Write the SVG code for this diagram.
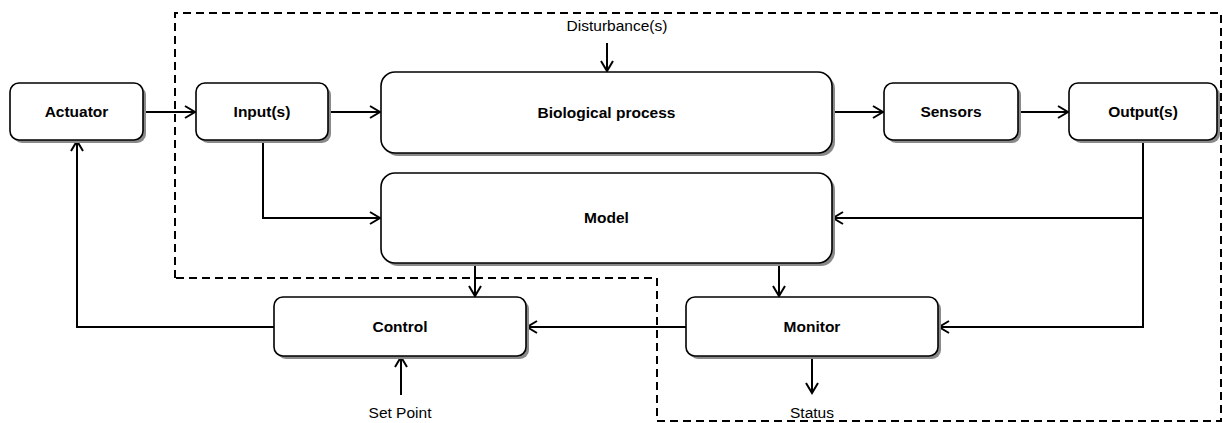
<svg xmlns="http://www.w3.org/2000/svg" width="1223" height="423" viewBox="0 0 1223 423">
<style>
.box{fill:#fff;stroke:#000;stroke-width:1.6}
.sh{fill:#8a8a8a;stroke:none}
.lbl{font-family:"Liberation Sans",Arial,sans-serif;font-weight:bold;font-size:15.5px;text-anchor:middle;fill:#000}
.txt{font-family:"Liberation Sans",Arial,sans-serif;font-size:15.5px;text-anchor:middle;fill:#000}
.c{fill:none;stroke:#000;stroke-width:2}
.dash{fill:none;stroke:#000;stroke-width:2;stroke-dasharray:8,5}
</style>
<defs>
<marker id="ah" markerWidth="14" markerHeight="14" refX="11" refY="7" orient="auto" markerUnits="userSpaceOnUse">
<polyline points="1,1 11,7 1,13" fill="none" stroke="#000" stroke-width="2"/>
</marker>
</defs>
<rect width="1223" height="423" fill="#fff"/>
<polyline class="dash" points="175,278 175,13 1221,13 1221,421 657,421 657,278 175,278"/>
<g id="connectors">
<line class="c" x1="143" y1="112" x2="195" y2="112" marker-end="url(#ah)"/>
<line class="c" x1="328" y1="112" x2="380" y2="112" marker-end="url(#ah)"/>
<line class="c" x1="832" y1="112" x2="883" y2="112" marker-end="url(#ah)"/>
<line class="c" x1="1018" y1="112" x2="1068" y2="112" marker-end="url(#ah)"/>
<polyline class="c" points="263,140 263,218 380,218" marker-end="url(#ah)"/>
<polyline class="c" points="1143,140 1143,218 833,218" marker-end="url(#ah)"/>
<polyline class="c" points="1143,218 1143,327 939,327" marker-end="url(#ah)"/>
<line class="c" x1="475" y1="263" x2="475" y2="296" marker-end="url(#ah)"/>
<line class="c" x1="779" y1="263" x2="779" y2="296" marker-end="url(#ah)"/>
<line class="c" x1="686" y1="327" x2="527" y2="327" marker-end="url(#ah)"/>
<polyline class="c" points="274,327 77,327 77,141" marker-end="url(#ah)"/>
<line class="c" x1="401" y1="395" x2="401" y2="357" marker-end="url(#ah)"/>
<line class="c" x1="812" y1="356" x2="812" y2="393" marker-end="url(#ah)"/>
<line class="c" x1="607" y1="43" x2="607" y2="71" marker-end="url(#ah)"/>
</g>
<g id="actuator">
<rect class="sh" x="13" y="86" width="133" height="57" rx="9"/>
<rect class="box" x="10" y="83" width="133" height="57" rx="9"/>
<text class="lbl" x="76.5" y="117">Actuator</text>
</g>
<g id="inputs">
<rect class="sh" x="199" y="86" width="132" height="57" rx="9"/>
<rect class="box" x="196" y="83" width="132" height="57" rx="9"/>
<text class="lbl" x="262" y="117">Input(s)</text>
</g>
<g id="bioprocess">
<rect class="sh" x="384" y="75" width="451" height="81" rx="14"/>
<rect class="box" x="381" y="72" width="451" height="81" rx="14"/>
<text class="lbl" x="606.5" y="117.5">Biological process</text>
</g>
<g id="sensors">
<rect class="sh" x="887" y="86" width="134" height="57" rx="9"/>
<rect class="box" x="884" y="83" width="134" height="57" rx="9"/>
<text class="lbl" x="951" y="117">Sensors</text>
</g>
<g id="outputs">
<rect class="sh" x="1072" y="86" width="148" height="57" rx="9"/>
<rect class="box" x="1069" y="83" width="148" height="57" rx="9"/>
<text class="lbl" x="1143" y="117">Output(s)</text>
</g>
<g id="model">
<rect class="sh" x="384" y="176" width="451" height="90" rx="14"/>
<rect class="box" x="381" y="173" width="451" height="90" rx="14"/>
<text class="lbl" x="606.5" y="223">Model</text>
</g>
<g id="control">
<rect class="sh" x="277" y="300" width="252" height="59" rx="9"/>
<rect class="box" x="274" y="297" width="252" height="59" rx="9"/>
<text class="lbl" x="400" y="332">Control</text>
</g>
<g id="monitor">
<rect class="sh" x="689" y="300" width="252" height="59" rx="9"/>
<rect class="box" x="686" y="297" width="252" height="59" rx="9"/>
<text class="lbl" x="812" y="332">Monitor</text>
</g>
<g id="labels">
<text class="txt" x="617" y="31">Disturbance(s)</text>
<text class="txt" x="400" y="418">Set Point</text>
<text class="txt" x="812" y="418">Status</text>
</g>
</svg>
